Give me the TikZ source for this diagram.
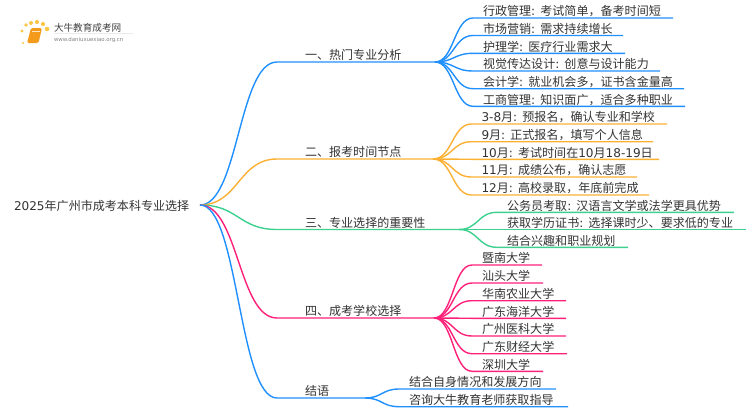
\documentclass[tikz,border=0pt]{standalone}
\usepackage{fontspec}
\setmainfont{Noto Sans CJK SC}
\newfontfamily\latfont{DejaVu Sans}
\newcommand{\lat}[1]{{\latfont #1}}
\usetikzlibrary{calc}
\definecolor{hotblue}{HTML}{2090FF}
\definecolor{timeorange}{HTML}{FBB034}
\definecolor{whygreen}{HTML}{3DD08E}
\definecolor{schoolpink}{HTML}{FF2079}
\definecolor{bookorange}{HTML}{F49B1C}
\definecolor{dotyellow}{HTML}{FBC54A}
\tikzset{
	label/.style= {
		anchor=base west,
		inner sep=0,
		outer sep=0,
		text=black!80,
		font={\fontsize{12.05}{14}\selectfont}
	},
	curve/.style= {
		to path={.. controls ($(\tikztostart)!0.5!(\tikztotarget |- \tikztostart)$) and ($(\tikztotarget)!0.5!(\tikztostart |- \tikztotarget)$) .. (\tikztotarget)}
	},
	hot/.style={hotblue, line width=1.4pt},
	time/.style={timeorange, line width=1.4pt},
	why/.style={whygreen, line width=1.4pt},
	school/.style={schoolpink, line width=1.4pt},
}
\newcommand{\branch}[6][]{
	\coordinate(#2start) at (277,#3);
	\coordinate(#2join) at (#4,#3);
	\node(#2)[label] at (305,#3-2.2) {#6};
	\draw[#1] (#5) to[curve] (#2start) -- (#2join);
}
\newcommand{\leaf}[7][]{
	\coordinate(#2start) at (#4-10,#5);
	\coordinate(#2end) at (#6,#5);
	\node(#2)[label] at (#4,#5-2.2) {#7};
	\draw[#1] (#3) to[curve] (#2start) -- (#2end);
}
\begin{document}
\begin{tikzpicture}[x=1pt,y=-1pt]
		\useasboundingbox (0,0) rectangle (750,410);

		\foreach \dotx/\doty/\dotr in {23/43/1.2, 22/31/1.6, 26/25/1.8, 31/23/2, 37/22/2.1, 43/24/2.1, 47/29/2.3}
			\fill[dotyellow] (\dotx,\doty) circle (\dotr);
		\fill[bookorange, rounded corners=1.5pt] (31,28) -- (42,28) -- (38.5,43) -- (27,43) -- cycle;
		\draw[white!75!bookorange, line width=0.5pt] (32,31) -- (40,31);
		\node(logoname)[label, text=black!75, font={\fontsize{9.6}{11}\selectfont}] at (54,31) {大牛教育成考网};
		\node(logourl)[label, text=black!50, font={\latfont\fontsize{5.4}{6}\selectfont}] at (54,41) {www.daniuxuexiao.org.cn};
		\coordinate(logoleft) at (54,33.5);
		\coordinate(logoright) at (133,33.5);
		\draw[black!8, line width=0.6pt] (logoleft) -- (logoright);

		\coordinate(rootjoin) at (200,205);
		\node(root)[label] at (14,210) {\lat{2025}年广州市成考本科专业选择};

		\branch[hot]{hot}{62}{435}{rootjoin}{一、热门专业分析}
		\branch[time]{time}{159}{433}{rootjoin}{二、报考时间节点}
		\branch[why]{why}{229.5}{459}{rootjoin}{三、专业选择的重要性}
		\branch[school]{school}{318}{434}{rootjoin}{四、成考学校选择}
		\branch[hot]{end}{398}{365}{rootjoin}{结语}

		\leaf[hot]{hota}{hotjoin}{483}{18}{673}{行政管理\lat{: }考试简单，备考时间短}
		\leaf[hot]{hotb}{hotjoin}{483}{35.5}{623}{市场营销\lat{: }需求持续增长}
		\leaf[hot]{hotc}{hotjoin}{483}{53.3}{625}{护理学\lat{: }医疗行业需求大}
		\leaf[hot]{hotd}{hotjoin}{483}{71}{660}{视觉传达设计\lat{: }创意与设计能力}
		\leaf[hot]{hote}{hotjoin}{483}{88.7}{684}{会计学\lat{: }就业机会多，证书含金量高}
		\leaf[hot]{hotf}{hotjoin}{483}{106.3}{685}{工商管理\lat{: }知识面广，适合多种职业}

		\leaf[time]{timea}{timejoin}{481.5}{124}{667}{\lat{3-8}月\lat{: }预报名，确认专业和学校}
		\leaf[time]{timeb}{timejoin}{481.5}{141.7}{653}{\lat{9}月\lat{: }正式报名，填写个人信息}
		\leaf[time]{timec}{timejoin}{481.5}{159.3}{659}{\lat{10}月\lat{: }考试时间在\lat{10}月\lat{18-19}日}
		\leaf[time]{timed}{timejoin}{481.5}{177}{637}{\lat{11}月\lat{: }成绩公布，确认志愿}
		\leaf[time]{timee}{timejoin}{481.5}{195}{649}{\lat{12}月\lat{: }高校录取，年底前完成}

		\leaf[why]{whya}{whyjoin}{507}{212.3}{734}{公务员考取\lat{: }汉语言文学或法学更具优势}
		\leaf[why]{whyb}{whyjoin}{507}{229.5}{746}{获取学历证书\lat{: }选择课时少、要求低的专业}
		\leaf[why]{whyc}{whyjoin}{507}{247.3}{628}{结合兴趣和职业规划}

		\leaf[school]{schoola}{schooljoin}{482}{265}{542}{暨南大学}
		\leaf[school]{schoolb}{schooljoin}{482}{283}{543}{汕头大学}
		\leaf[school]{schoolc}{schooljoin}{482}{300.7}{566}{华南农业大学}
		\leaf[school]{schoold}{schooljoin}{482}{318.3}{566}{广东海洋大学}
		\leaf[school]{schoole}{schooljoin}{482}{336}{566}{广州医科大学}
		\leaf[school]{schoolf}{schooljoin}{482}{353.7}{567}{广东财经大学}
		\leaf[school]{schoolg}{schooljoin}{482}{371.3}{543}{深圳大学}

		\leaf[hot]{enda}{endjoin}{409}{389}{556}{结合自身情况和发展方向}
		\leaf[hot]{endb}{endjoin}{409}{406.7}{568}{咨询大牛教育老师获取指导}
\end{tikzpicture}
\end{document}
